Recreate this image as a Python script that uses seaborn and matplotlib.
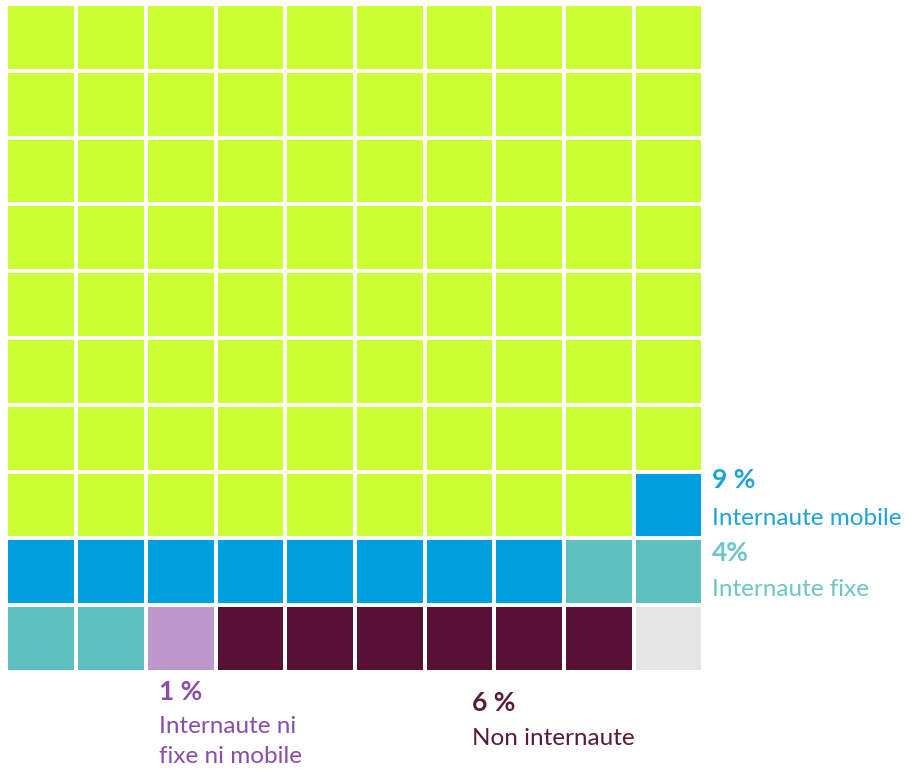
import numpy as np
import pandas as pd
import matplotlib
matplotlib.use("Agg")
import matplotlib.pyplot as plt
from matplotlib.colors import ListedColormap
import seaborn as sns

categories = ["Internaute fixe et mobile", "Internaute mobile", "Internaute fixe",
              "Internaute ni fixe ni mobile", "Non internaute", "Non réponse"]
counts = [79, 9, 4, 1, 6, 1]
cell_colors = ["#CCFF33", "#009FDF", "#5DBFBF", "#BB97CB", "#561135", "#E5E5E5"]
pct_labels = ["", "9 %", "4%", "1 %", "6 %", ""]
name_labels = ["", "Internaute mobile", "Internaute fixe", "Internaute ni\nfixe ni mobile", "Non internaute", ""]
text_colors = ["#000000", "#1FA3DC", "#6CC6C6", "#8B4DAB", "#5B1A3C", "#000000"]

codes = np.repeat(np.arange(len(counts)), counts).reshape(10, 10)
df = pd.DataFrame(codes)

W, H = 912, 769
fig = plt.figure(figsize=(W / 100, H / 100), dpi=100)
ax = fig.add_axes([6.5 / W, (H - 672) / H, 697 / W, 668 / H])
sns.heatmap(df, ax=ax, cmap=ListedColormap(cell_colors), vmin=-0.5, vmax=len(counts) - 0.5,
            cbar=False, linewidths=1.6, linecolor="white", square=False,
            xticklabels=False, yticklabels=False)
ax.set_xlabel("")
ax.set_ylabel("")

font = ["Lato", "DejaVu Sans"]

def label(x, y, pct, name, color, line_gap=35, step=31):
    fig.text(x / W, 1 - y / H, pct, color=color, fontsize=19, fontweight="bold",
             family=font, va="baseline", ha="left")
    for i, line in enumerate(name.split("\n")):
        fig.text(x / W, 1 - (y + line_gap + i * step) / H, line, color=color, fontsize=17.5,
                 family=font, va="baseline", ha="left")

label(712, 488, pct_labels[1], name_labels[1], text_colors[1], 37)
label(712, 561, pct_labels[2], name_labels[2], text_colors[2], 35)
label(159, 700, pct_labels[3], name_labels[3], text_colors[3], 33, 30)
label(472, 711, pct_labels[4], name_labels[4], text_colors[4], 34)

fig.savefig("out.png", dpi=100, facecolor="white")
